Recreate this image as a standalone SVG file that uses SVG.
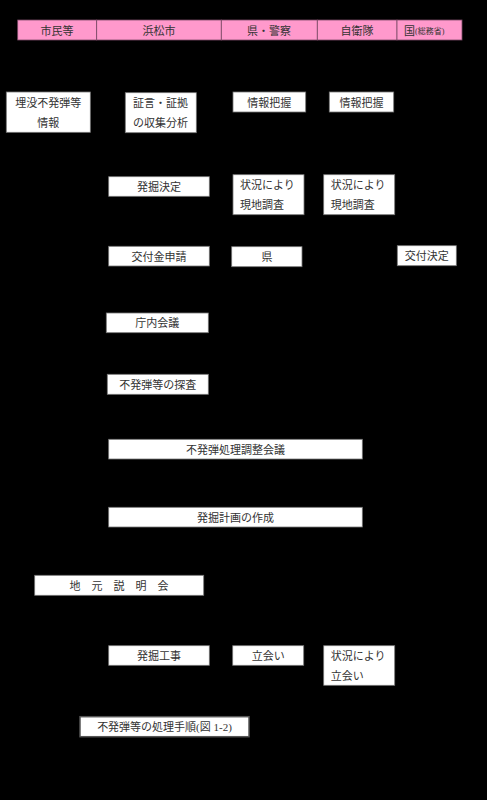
<svg xmlns="http://www.w3.org/2000/svg" width="487" height="800" viewBox="0 0 487 800">
<style>
.bg{fill:#000}
.hd{fill:#ff99cc;stroke:#7a4a66;stroke-width:0.8}
.bx{fill:#fff;stroke:#777;stroke-width:0.8}
.cap{fill:#fff;stroke:#555;stroke-width:1.5}
text{font-family:"Liberation Serif","Noto Sans CJK JP",serif;font-size:11px;fill:#333;dominant-baseline:central}
.c{text-anchor:middle}
.s{font-size:8px}
</style>
<rect class="bg" x="0" y="0" width="487" height="800"/>
<g id="header">
<rect class="hd" x="17.7" y="20" width="79" height="20"/>
<rect class="hd" x="96.7" y="20" width="124.6" height="20"/>
<rect class="hd" x="221.3" y="20" width="96" height="20"/>
<rect class="hd" x="317.3" y="20" width="79.7" height="20"/>
<rect class="hd" x="397" y="20" width="65" height="20"/>
<text class="c" x="57" y="30.5">市民等</text>
<text class="c" x="159" y="30.5">浜松市</text>
<text class="c" x="269" y="30.5">県・警察</text>
<text class="c" x="357" y="30.5">自衛隊</text>
<text x="404" y="30.5">国<tspan class="s">(総務省)</tspan></text>
</g>
<g id="n1"><rect class="bx" x="6.3" y="92" width="84" height="40.3"/><text class="c" x="48.3" y="103">埋没不発弾等</text><text class="c" x="48.3" y="123">情報</text></g>
<g id="n2"><rect class="bx" x="125.3" y="92.7" width="71" height="40"/><text x="133" y="103">証言・証拠</text><text x="133" y="123">の収集分析</text></g>
<g id="n3"><rect class="bx" x="233" y="92" width="72.7" height="20"/><text class="c" x="269.3" y="102.5">情報把握</text></g>
<g id="n4"><rect class="bx" x="329.3" y="92" width="64.4" height="20"/><text class="c" x="361.5" y="102.5">情報把握</text></g>
<g id="n5"><rect class="bx" x="108.7" y="176.7" width="100.6" height="19.6"/><text class="c" x="159" y="187">発掘決定</text></g>
<g id="n6"><rect class="bx" x="233" y="174.7" width="71" height="40"/><text x="240" y="184.5">状況により</text><text x="240" y="205">現地調査</text></g>
<g id="n7"><rect class="bx" x="323.7" y="174.7" width="71" height="40"/><text x="330.7" y="184.5">状況により</text><text x="330.7" y="205">現地調査</text></g>
<g id="n8"><rect class="bx" x="108.7" y="246.3" width="100.6" height="19.7"/><text class="c" x="159" y="256.5">交付金申請</text></g>
<g id="n9"><rect class="bx" x="231.7" y="246.7" width="70.3" height="20"/><text class="c" x="267" y="257">県</text></g>
<g id="n10"><rect class="bx" x="397.3" y="245.7" width="59" height="20"/><text class="c" x="426.8" y="256">交付決定</text></g>
<g id="n11"><rect class="bx" x="106.3" y="313" width="102" height="19.7"/><text class="c" x="157.3" y="323">庁内会議</text></g>
<g id="n12"><rect class="bx" x="107.3" y="374.3" width="101" height="20"/><text class="c" x="157.8" y="384.5">不発弾等の探査</text></g>
<g id="n13"><rect class="bx" x="108.7" y="439.3" width="253.6" height="19.7"/><text class="c" x="235.5" y="449.5">不発弾処理調整会議</text></g>
<g id="n14"><rect class="bx" x="108.7" y="507.3" width="253.6" height="19.7"/><text class="c" x="235.5" y="517.5">発掘計画の作成</text></g>
<g id="n15"><rect class="bx" x="34.7" y="575.3" width="169" height="20"/><text class="c" x="119" y="585.5" xml:space="preserve">地　元　説　明　会</text></g>
<g id="n16"><rect class="bx" x="108.7" y="645.7" width="100.6" height="19.6"/><text class="c" x="159" y="656">発掘工事</text></g>
<g id="n17"><rect class="bx" x="232.7" y="645.7" width="71" height="19.6"/><text class="c" x="268.2" y="656">立会い</text></g>
<g id="n18"><rect class="bx" x="323.7" y="645.7" width="71" height="39.6"/><text x="330.7" y="655.5">状況により</text><text x="330.7" y="676">立会い</text></g>
<g id="caption"><rect class="cap" x="80" y="716.7" width="169" height="20"/><text class="c" x="164.5" y="727">不発弾等の処理手順(図 1-2)</text></g>
<g id="connectors"></g>
</svg>
